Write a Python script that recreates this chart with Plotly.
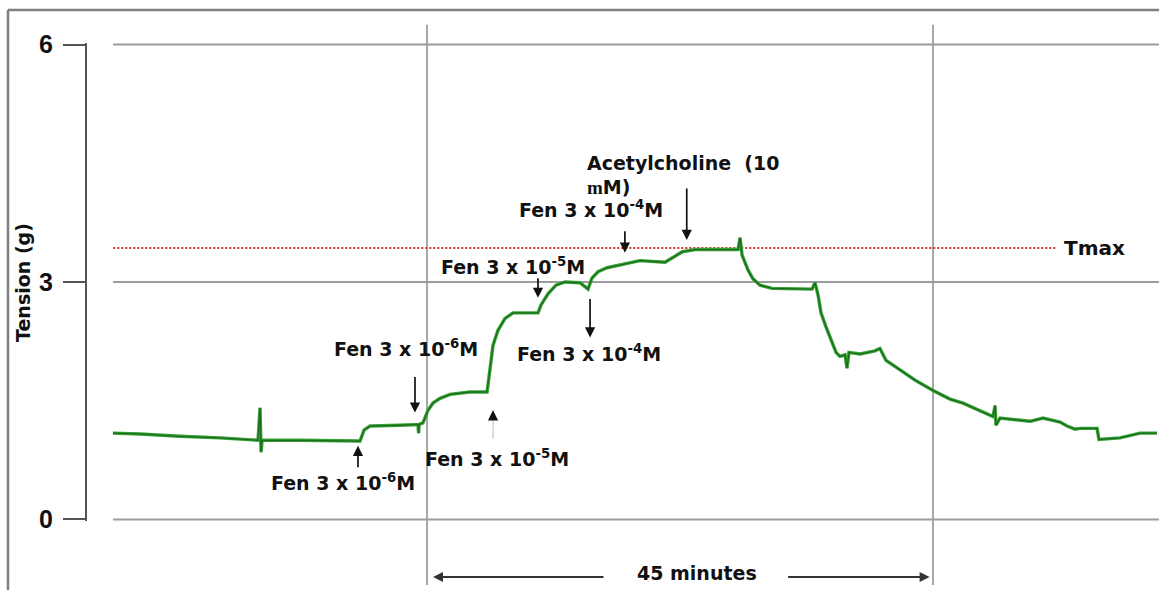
import plotly.graph_objects as go

# ---------------- data (time in minutes, tension in g) ----------------
time_min = [-27.93, -25.52, -21.97, -18.41, -15.03, -14.85, -14.76, -14.67, -11.29, -7.74,
            -5.96, -5.60, -5.07, -2.40, -0.80, -0.75, -0.70, -0.36, 0.09, 0.53,
            1.16, 2.05, 3.82, 5.34, 5.60, 5.87, 6.31, 6.94, 7.65, 9.87,
            10.14, 10.76, 11.47, 12.27, 13.61, 14.32, 14.67, 15.21, 16.01, 17.61,
            18.94, 21.17, 21.79, 22.68, 23.84, 27.66, 27.84, 28.02, 28.55, 28.99,
            29.62, 30.68, 34.24, 34.51, 34.77, 35.04, 35.49, 35.93, 36.38, 36.73,
            37.18, 37.35, 37.53, 38.51, 39.84, 40.28, 40.82, 42.07, 43.40, 45.00,
            46.51, 47.67, 49.18, 50.34, 50.52, 50.60, 50.96, 53.63, 54.78, 56.30,
            56.92, 57.63, 58.08, 59.59, 59.76, 61.63, 63.41, 64.92]
tension_g = [1.09, 1.08, 1.05, 1.03, 1.00, 1.41, 0.85, 1.00, 1.00, 0.99,
             0.99, 1.13, 1.18, 1.19, 1.20, 1.09, 1.20, 1.22, 1.38, 1.47,
             1.53, 1.58, 1.61, 1.61, 1.89, 2.20, 2.39, 2.54, 2.61, 2.61,
             2.71, 2.85, 2.96, 3.00, 2.99, 2.91, 3.05, 3.13, 3.18, 3.23,
             3.27, 3.25, 3.30, 3.38, 3.41, 3.41, 3.56, 3.34, 3.15, 3.04,
             2.96, 2.92, 2.91, 2.99, 2.84, 2.61, 2.43, 2.27, 2.11, 2.06,
             2.08, 1.91, 2.11, 2.09, 2.13, 2.16, 2.01, 1.89, 1.76, 1.63,
             1.52, 1.47, 1.37, 1.30, 1.44, 1.19, 1.28, 1.24, 1.28, 1.23,
             1.18, 1.14, 1.15, 1.15, 1.01, 1.03, 1.09, 1.09]

tmax_g = 3.43
tmax_span_min = [-27.9, 56.0]

dose_labels = ["Fen 3 x 10<sup>-6</sup>M", "Fen 3 x 10<sup>-6</sup>M",
               "Fen 3 x 10<sup>-5</sup>M", "Fen 3 x 10<sup>-5</sup>M",
               "Fen 3 x 10<sup>-4</sup>M", "Fen 3 x 10<sup>-4</sup>M"]
dose_label_t = [-7.47, -1.87, 6.2, 7.65, 14.4, 14.6]
dose_label_g = [0.47, 2.16, 0.78, 3.20, 2.10, 3.92]

arrow_t = [-6.14, -1.07, 9.87, 14.5, 17.6, 23.1]
arrow_g = [0.93, 1.35, 2.80, 2.30, 3.37, 3.53]
arrow_len = [23, -37, -21, -40, -23, -53]

y_ticks = [0, 3, 6]
y_tick_labels = ["0", "3", "6"]
grid_t = [0, 45]

# ---------------- figure ----------------
fig = go.Figure()

fig.add_trace(go.Scatter(x=tmax_span_min, y=[tmax_g, tmax_g], mode="lines",
                         line=dict(color="#d8322a", width=2, dash="2px,2px"),
                         hoverinfo="skip"))
fig.add_trace(go.Scatter(x=time_min, y=tension_g, mode="lines",
                         line=dict(color="#38a338", width=3.4), hoverinfo="skip"))
fig.add_trace(go.Scatter(x=time_min, y=tension_g, mode="lines",
                         line=dict(color="#145f14", width=1.3), opacity=0.8,
                         hoverinfo="skip"))

grid_col = "#9c9c9c"
shapes = []
for v in y_ticks:
    shapes.append(dict(type="line", xref="x", yref="y", x0=time_min[0], x1=65.1,
                       y0=v, y1=v, line=dict(color=grid_col, width=2), layer="below"))
for t in grid_t:
    shapes.append(dict(type="line", xref="x", yref="paper", x0=t, x1=t,
                       y0=-0.134, y1=1.038, line=dict(color="#a8a8a8", width=2),
                       layer="below"))
# outer frame (left and top)
shapes.append(dict(type="line", xref="paper", yref="paper", x0=-0.0737, x1=-0.0737,
                   y0=-0.15, y1=1.069, line=dict(color="#7f7f7f", width=2.5)))
shapes.append(dict(type="line", xref="paper", yref="paper", x0=-0.0737, x1=1.0,
                   y0=1.069, y1=1.069, line=dict(color="#7f7f7f", width=2.5)))

txt_font = dict(family="DejaVu Sans", size=19, color="#111111", weight="bold")
ann = []
for s, t, g in zip(dose_labels, dose_label_t, dose_label_g):
    ann.append(dict(text=s, x=t, y=g, xref="x", yref="y", showarrow=False,
                    font=txt_font, xanchor="center", yanchor="middle"))
for t, g, L in zip(arrow_t, arrow_g, arrow_len):
    ann.append(dict(text="", x=t, y=g, xref="x", yref="y", showarrow=True,
                    ax=0, ay=L, arrowhead=2, arrowsize=1.2, arrowwidth=1.7,
                    arrowcolor="#111111", standoff=0))
# faint arrow under the 10^-5 trace step
ann.append(dict(text="", x=5.87, y=1.38, xref="x", yref="y", showarrow=True,
                ax=0, ay=30, arrowhead=0, arrowwidth=1.2, arrowcolor="#c8c8c8"))
ann.append(dict(text="", x=5.87, y=1.38, xref="x", yref="y", showarrow=True,
                ax=0, ay=7, arrowhead=2, arrowsize=1.2, arrowwidth=1.7,
                arrowcolor="#111111", standoff=0))

ann.append(dict(text="Acetylcholine\u00a0\u00a0(10", x=14.05, y=4.51, xref="x", yref="y",
                showarrow=False, font=dict(txt_font, size=19), xanchor="left",
                yanchor="middle"))
ann.append(dict(text="<span style='font-family:Liberation Serif'>m</span>M)", x=14.05,
                y=4.20, xref="x", yref="y", showarrow=False,
                font=dict(txt_font, size=19), xanchor="left", yanchor="middle"))
ann.append(dict(text="Tmax", x=59.4, y=tmax_g, xref="x", yref="y", showarrow=False,
                font=dict(txt_font, size=20), xanchor="center", yanchor="middle"))
ann.append(dict(text="45 minutes", x=24.0, y=-0.109, xref="x", yref="paper",
                showarrow=False, font=dict(txt_font, size=19), xanchor="center",
                yanchor="middle"))
ann.append(dict(text="", x=0.53, y=-0.117, xref="x", yref="paper", showarrow=True,
                ax=172, ay=0, arrowhead=2, arrowsize=1, arrowwidth=2,
                arrowcolor="#333333", standoff=0))
ann.append(dict(text="", x=44.7, y=-0.117, xref="x", yref="paper", showarrow=True,
                ax=-143, ay=0, arrowhead=2, arrowsize=1, arrowwidth=2,
                arrowcolor="#333333", standoff=0))
ann.append(dict(text="Tension (g)", x=-0.0597, y=0.498, xref="paper", yref="paper",
                showarrow=False, textangle=-90, font=dict(txt_font, size=19),
                xanchor="center", yanchor="middle"))

fig.update_layout(
    width=1159, height=590,
    margin=dict(l=87, r=0, t=43, b=69),
    paper_bgcolor="white", plot_bgcolor="white",
    showlegend=False,
    shapes=shapes, annotations=ann,
    xaxis=dict(range=[-30.24, 65.10], visible=False, fixedrange=True),
    yaxis=dict(range=[-0.02, 6.02], showgrid=False, zeroline=False,
               showline=True, linecolor="#555555", linewidth=2,
               ticks="outside", ticklen=22, tickwidth=2, tickcolor="#555555",
               tickvals=y_ticks,
               ticktext=["<b>%s</b>" % s for s in y_tick_labels],
               ticklabelstandoff=5,
               tickfont=dict(family="Liberation Sans, Arial", size=25,
                             color="#111111"),
               fixedrange=True),
)

fig.write_html("out.html")
